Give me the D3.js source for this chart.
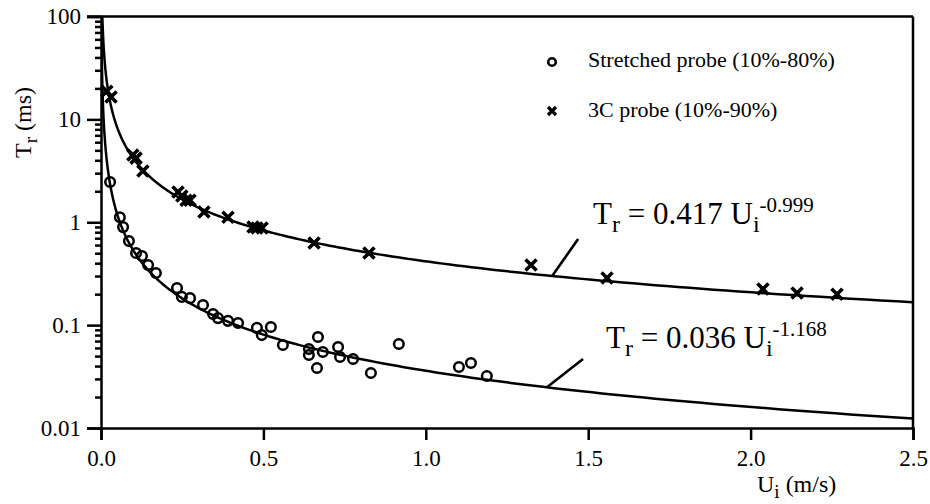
<!DOCTYPE html>
<html>
<head>
<meta charset="utf-8">
<script src="https://cdn.jsdelivr.net/npm/d3@7"></script>
<style>
  body { margin: 0; background: #fff; }
  svg text { font-family: "Liberation Serif", "Times New Roman", serif; fill: #000; }
</style>
</head>
<body>
<svg width="930" height="504"></svg>
<script>
// stretched probe (10%-80%) : circles
const stretchedU = [0.028, 0.058, 0.068, 0.086, 0.108, 0.126, 0.145, 0.169, 0.234, 0.249, 0.274, 0.314,
  0.345, 0.360, 0.391, 0.422, 0.480, 0.495, 0.523, 0.560, 0.640, 0.640, 0.668, 0.665, 0.683, 0.730,
  0.736, 0.776, 0.831, 0.917, 1.102, 1.139, 1.188];
const stretchedT = [2.46, 1.12, 0.897, 0.656, 0.502, 0.469, 0.384, 0.321, 0.229, 0.188, 0.183, 0.157,
  0.128, 0.117, 0.110, 0.105, 0.094, 0.080, 0.096, 0.064, 0.0586, 0.0512, 0.0766, 0.0383, 0.0548, 0.0612,
  0.049, 0.0469, 0.0342, 0.0655, 0.0392, 0.0429, 0.032];

// 3C probe (10%-90%) : crosses
const probe3cU = [0.018, 0.031, 0.098, 0.108, 0.129, 0.237, 0.249, 0.262, 0.274, 0.317, 0.391, 0.468,
  0.480, 0.496, 0.656, 0.825, 1.324, 1.558, 2.038, 2.143, 2.266];
const probe3cT = [18.8, 16.5, 4.5, 4.2, 3.15, 1.97, 1.80, 1.64, 1.64, 1.26, 1.12, 0.90,
  0.88, 0.88, 0.628, 0.502, 0.384, 0.287, 0.224, 0.205, 0.200];

// fitted curves Tr = a * Ui^b
const fitA = [0.417, 0.036];
const fitB = [-0.999, -1.168];
const fitExp = ["-0.999", "-1.168"];
const fitCoef = ["0.417", "0.036"];

const xTicks = [0, 0.5, 1, 1.5, 2, 2.5];
const yTicks = [0.01, 0.1, 1, 10, 100];
const yTickLabels = ["0.01", "0.1", "1", "10", "100"];
const legendLabels = ["Stretched probe (10%-80%)", "3C probe (10%-90%)"];

const plotL = 101, plotR = 913, plotT = 16.5, plotB = 428;
const serif = '"Liberation Serif", "Times New Roman", serif';

const svg = d3.select('svg');

const x = d3.scaleLinear().domain([0, 2.5]).range([plotL, plotR]);
const y = d3.scaleLog().domain([0.01, 100]).range([plotB, plotT]);

svg.append('clipPath').attr('id', 'clip')
  .append('rect').attr('x', plotL).attr('y', plotT).attr('width', plotR - plotL).attr('height', plotB - plotT);

// minor y ticks
const minor = [];
yTicks.slice(0, -1).forEach(d => { for (let k = 2; k <= 9; k++) minor.push(d * k); });

svg.append('g')
  .attr('transform', `translate(${plotL},0)`)
  .call(d3.axisLeft(y).tickValues(minor).tickSize(6).tickFormat(''))
  .call(g => g.select('.domain').remove())
  .selectAll('line').attr('stroke-width', 2.5);

const fixAxis = g => {
  g.attr('font-family', serif).attr('font-size', 23);
  g.select('.domain').attr('stroke-width', 2.5);
  g.selectAll('line').attr('stroke-width', 2.5);
  g.selectAll('text').style('font-family', serif).style('font-size', '23px').attr('fill', '#000');
};

svg.append('g')
  .attr('transform', `translate(${plotL},0)`)
  .call(d3.axisLeft(y).tickValues(yTicks).tickSize(14).tickPadding(6).tickFormat((d, i) => yTickLabels[i]))
  .call(fixAxis);

svg.append('g')
  .attr('transform', `translate(0,${plotB})`)
  .call(d3.axisBottom(x).tickValues(xTicks).tickSize(12).tickPadding(10).tickFormat(d3.format('.1f')))
  .call(fixAxis);

// frame top and right
svg.append('line').attr('x1', plotL - 14).attr('x2', plotR).attr('y1', y(100)).attr('y2', y(100))
  .attr('stroke', '#000').attr('stroke-width', 2.5);
svg.append('line').attr('x1', plotR).attr('x2', plotR).attr('y1', plotT).attr('y2', plotB)
  .attr('stroke', '#000').attr('stroke-width', 2.5);

// fit curves
const line = d3.line().x(d => x(d[0])).y(d => y(d[1]));
fitA.forEach((a, i) => {
  const pts = d3.range(0, 401).map(k => {
    const u = 0.0008 * Math.pow(2.5 / 0.0008, k / 400);
    return [u, a * Math.pow(u, fitB[i])];
  });
  svg.append('path').attr('d', line(pts)).attr('clip-path', 'url(#clip)')
    .attr('fill', 'none').attr('stroke', '#000').attr('stroke-width', 2.5);
});

// circles
svg.append('g').selectAll('circle').data(stretchedU).join('circle')
  .attr('cx', d => x(d)).attr('cy', (d, i) => y(stretchedT[i])).attr('r', 4.8)
  .attr('fill', 'none').attr('stroke', '#000').attr('stroke-width', 2.5);

// crosses
const cross = (g, s, w) => g.append('path').attr('d', `M${-s},${-s}L${s},${s}M${-s},${s}L${s},${-s}`)
  .attr('stroke', '#000').attr('stroke-width', w).attr('fill', 'none');
probe3cU.forEach((u, i) => {
  cross(svg.append('g').attr('transform', `translate(${x(u)},${y(probe3cT[i])})`), 5.5, 3.6);
});

// legend
svg.append('circle').attr('cx', 552).attr('cy', 62).attr('r', 3.8)
  .attr('fill', 'none').attr('stroke', '#000').attr('stroke-width', 2.6);
cross(svg.append('g').attr('transform', 'translate(552,111)'), 4, 3.2);
legendLabels.forEach((t, i) => {
  svg.append('text').attr('x', 588).attr('y', 67 + i * 50).attr('font-size', 22).text(t);
});

// equations with leader lines
const leadFrom = [1.389, 1.373], leadTo = [1.469, 1.484], leadToT = [0.687, 0.0468];
const eqU = [1.515, 1.555], eqT = [0.96, 0.0599];
fitA.forEach((a, i) => {
  svg.append('line')
    .attr('x1', x(leadFrom[i])).attr('y1', y(a * Math.pow(leadFrom[i], fitB[i])))
    .attr('x2', x(leadTo[i])).attr('y2', y(leadToT[i]))
    .attr('stroke', '#000').attr('stroke-width', 2.6);
  const t = svg.append('text').attr('x', x(eqU[i])).attr('y', y(eqT[i])).attr('font-size', 31);
  t.append('tspan').text('T');
  t.append('tspan').attr('font-size', 24).attr('dy', 8).text('r');
  t.append('tspan').attr('dy', -8).text(` = ${fitCoef[i]} U`);
  t.append('tspan').attr('font-size', 24).attr('dy', 8).text('i');
  t.append('tspan').attr('font-size', 21).attr('dy', -20).text(fitExp[i]);
});

// axis titles
const xl = svg.append('text').attr('x', 757).attr('y', 492).attr('font-size', 24);
xl.append('tspan').text('U');
xl.append('tspan').attr('font-size', 19).attr('dy', 6).text('i');
xl.append('tspan').attr('dy', -6).text(' (m/s)');

const yl = svg.append('text').attr('transform', 'translate(31,158) rotate(-90)').attr('font-size', 24);
yl.append('tspan').text('T');
yl.append('tspan').attr('font-size', 19).attr('dy', 6).text('r');
yl.append('tspan').attr('dy', -6).text(' (ms)');
</script>
</body>
</html>
